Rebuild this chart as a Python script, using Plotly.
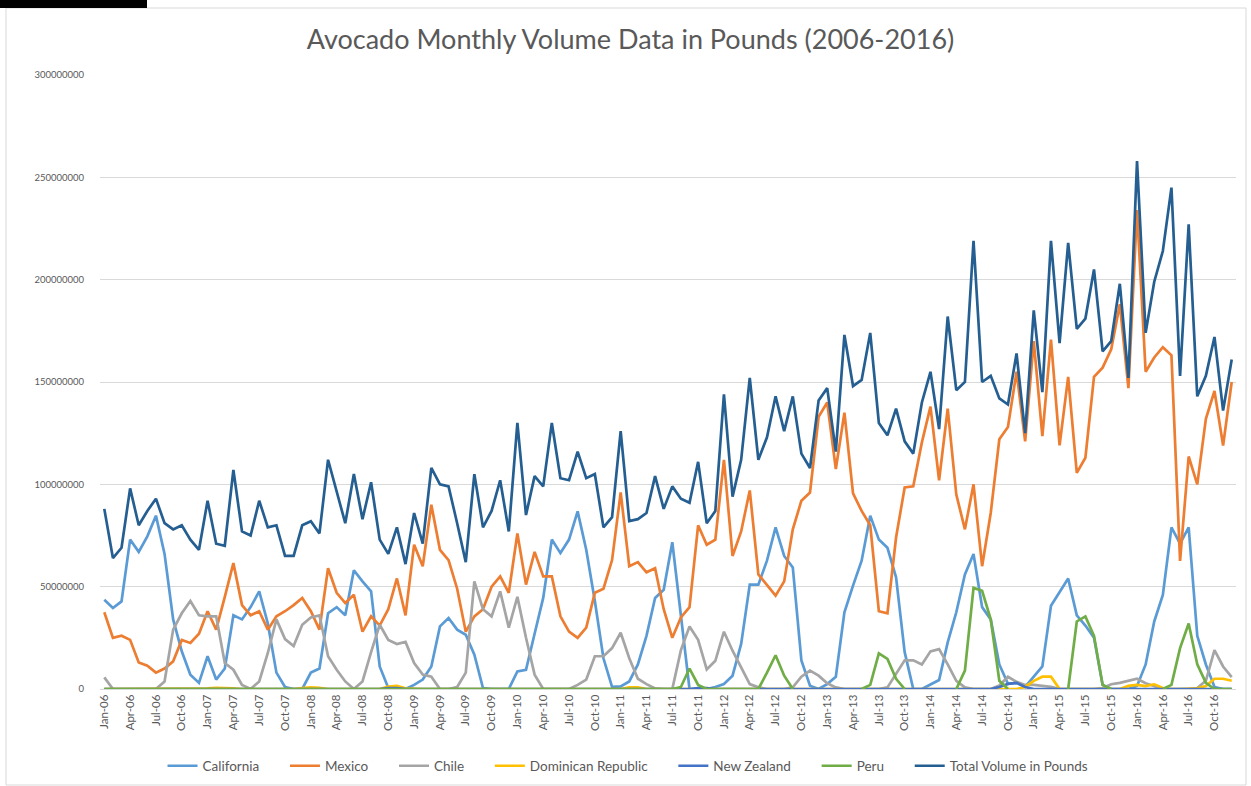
import plotly.graph_objects as go

# ---------------- data (values in millions of pounds) ----------------
month_names = ["Jan", "Feb", "Mar", "Apr", "May", "Jun", "Jul", "Aug", "Sep", "Oct", "Nov", "Dec"]
years = ["06", "07", "08", "09", "10", "11", "12", "13", "14", "15", "16"]
categories = [f"{m}-{y}" for y in years for m in month_names]

california = [
    43.6, 39.6, 42.8, 73, 67, 74.6, 84.7, 66, 34, 18.4, 7, 3,
    16, 4.6, 10, 36, 34, 40, 47.7, 32, 8, 1, 0, 0,
    8, 10, 37, 40, 36, 58, 52.6, 47.7, 11, 0.5, 0, 0,
    2, 4.6, 11, 30.6, 34.7, 29, 26.5, 16.8, 0.5, 0, 0, 0,
    8.6, 9.4, 27, 44.5, 73, 66.4, 73, 86.8, 68, 43, 15, 1,
    1.3, 3.7, 12, 26, 44.5, 48.5, 71.7, 36, 0, 0, 0, 1,
    2.4, 6.5, 22, 51, 51, 62.7, 79, 65, 59.4, 14, 1.6, 0,
    2.4, 6, 37.5, 50.5, 62.7, 84.7, 73, 69, 54.6, 18, 0, 0,
    2.4, 4.4, 22.8, 37.5, 56, 66, 40, 34, 12, 2.5, 3, 1,
    6, 11, 40.7, 47.7, 54, 36, 31, 25, 2, 0, 0, 0,
    1.5, 12, 33, 46, 79, 71, 79, 26, 12, 1, 0, 0,
]
mexico = [
    37.5, 25, 26, 24, 13, 11.4, 8, 10, 13.5, 24, 22.5, 27,
    38, 29, 45, 61.5, 41, 36, 38, 29, 35.5, 38, 41, 44.5,
    38, 29, 59, 47, 42, 46, 28, 35.5, 31, 39, 54, 36,
    70.5, 60, 90, 68, 63, 49, 28, 35.5, 39, 50, 55, 47,
    76, 51, 67, 55, 55, 35.5, 28, 25, 30, 47, 49, 63,
    96, 60, 62, 57, 59, 39, 25, 35, 40, 80, 70.5, 73,
    112, 65, 77, 97, 56, 51, 45.6, 52.6, 78, 92, 96, 133,
    140, 107.5, 135, 95.6, 87, 80, 38, 37, 74, 98.5, 99, 120.5,
    138, 102, 137, 95, 78, 100, 60, 86, 122, 128, 155, 121,
    170, 123.5, 170.7, 119, 152.5, 105.6, 113, 152.5, 157, 166, 188, 147,
    234, 155, 162, 167, 163, 62.6, 113.6, 100, 132, 145.6, 119, 150,
]
chile = [
    5.7, 0, 0, 0, 0, 0, 0, 3.7, 29, 37, 43, 36,
    35.5, 35.5, 12.7, 9.4, 2, 0, 3.7, 17.6, 34, 24.4, 21, 31.4,
    35, 36, 16, 9.4, 3.7, 0, 3.7, 18, 31.4, 24, 22, 23,
    12.7, 7, 6, 0, 0, 1, 8, 52.6, 39, 35.5, 47.7, 30,
    45, 25, 7, 0, 0, 0, 0, 2, 4.6, 16, 16, 20,
    27.5, 15, 5, 2.4, 0.3, 0, 0, 19, 30.5, 24, 9.6, 13.8,
    28, 18.7, 10.6, 2.4, 0.8, 0, 0, 0, 0.8, 6, 9, 6.5,
    2.8, 0.8, 0, 0, 0, 0, 0, 0.8, 7.3, 14, 14, 12,
    18.4, 19.5, 12, 4, 0.8, 0, 0, 0, 1.7, 6, 3.5, 2,
    2, 1.5, 1, 0, 0, 0, 0, 0, 0.5, 2.3, 3, 4,
    5, 2.8, 1.4, 0, 0, 0, 0, 0.5, 4, 19, 11, 5.8,
]
dominican_republic = [
    0, 0, 0, 0, 0, 0, 0, 0, 0, 0, 0, 0,
    0.3, 0.6, 0.6, 0.3, 0, 0, 0, 0, 0, 0, 0, 0.5,
    0.8, 0.6, 0, 0, 0, 0, 0, 0, 0, 1.2, 1.5, 0.3,
    0, 0, 0, 0, 0, 0, 0, 0, 0, 0, 0, 0,
    0, 0, 0, 0, 0, 0, 0, 0, 0, 0, 0, 0,
    0, 0.8, 0.8, 0, 0, 0, 0, 0, 0, 0, 0, 0,
    0, 0, 0, 0, 0, 0, 0, 0, 0, 0, 0, 0,
    0, 0, 0, 0, 0, 0, 0, 0, 0, 0.3, 0, 0,
    0, 0, 0, 0, 0, 0, 0, 0, 0, 0, 0, 1,
    4, 6, 6, 0, 0, 0, 0, 0, 0, 0, 0, 1.5,
    2, 1.4, 2.3, 0.5, 0, 0, 0, 0.3, 1.5, 5, 5, 4,
]
new_zealand = [
    0, 0, 0, 0, 0, 0, 0, 0, 0, 0, 0, 0,
    0, 0, 0, 0, 0, 0, 0, 0, 0, 0, 0, 0,
    0, 0, 0, 0, 0, 0, 0, 0, 0, 0.5, 0.5, 0,
    0, 0, 0, 0, 0, 0, 0, 0, 0, 0, 0, 0,
    0, 0, 0, 0, 0, 0, 0, 0, 0, 0, 0, 0,
    0, 0, 0, 0, 0, 0, 0, 0, 0, 0.5, 0.5, 0,
    0, 0, 0, 0, 0, 0, 0, 0, 0, 0, 0, 0,
    0, 0, 0, 0, 0, 0, 0, 0, 0, 0, 0, 0,
    0, 0, 0, 0, 0, 0, 0, 0, 1, 2.5, 3, 1,
    0, 0, 0, 0, 0, 0, 0, 0, 0, 0, 0, 0,
    0, 0, 0, 0, 0, 0, 0, 0, 0, 0, 0, 0,
]
N = None
peru = [
    0, 0, 0, 0, 0, 0, 0, 0, 0, 0, 0, 0,
    0, 0, 0, 0, 0, 0, 0, 0, 0, 0, 0, 0,
    0, 0, 0, 0, 0, 0, 0, 0, 0, 0, 0, 0,
    0, 0, 0, 0, 0, 0, 0, 0, 0, 0, 0, 0,
    0, 0, 0, 0, 0, 0, 0, 0, 0, 0, 0, 0,
    0, 0, 0, 0, 0, 0, 0, 1, 10, 2, 0, 0,
    0, 0, 0, 0, 0, 8, 16.5, 6.5, 0, N, N, N,
    N, N, N, N, 0, 2, 17.4, 14.7, 5, 0, N, N,
    N, N, N, 0, 9, 49.4, 48, 34, 4, 0, N, N,
    N, N, N, N, 0, 33, 35.5, 26, 2, 0, N, N,
    N, N, N, 0, 2, 20, 32, 12, 3, 0, 0, 0,
]
total = [
    88, 64, 69, 98, 80, 87, 93, 81, 78, 80, 73, 68,
    92, 71, 70, 107, 77, 75, 92, 79, 80, 65, 65, 80,
    82, 76, 112, 96, 81, 105, 83, 101, 73, 66, 79, 61,
    86, 71, 108, 100, 99, 81, 62, 105, 79, 87, 102, 77,
    130, 85, 104, 99, 130, 103, 102, 116, 103, 105, 79, 84,
    126, 82, 83, 86, 104, 88, 99, 93, 91, 111, 81, 87,
    144, 94, 112, 152, 112, 123, 143, 126, 143, 115, 108, 141,
    147, 116, 173, 148, 151, 174, 130, 124, 137, 121, 115, 140,
    155, 127, 182, 146, 150, 219, 150, 153, 142, 139, 164, 125,
    185, 145, 219, 169, 218, 176, 181, 205, 165, 170, 198, 152,
    258, 174, 199, 214, 245, 153, 227, 143, 153, 172, 136, 161,
]

series_names = ["California", "Mexico", "Chile", "Dominican Republic",
                "New Zealand", "Peru", "Total Volume in Pounds"]
series_values = [california, mexico, chile, dominican_republic,
                 new_zealand, peru, total]
series_colors = ["#5B9BD5", "#ED7D31", "#A5A5A5", "#FFC000",
                 "#4472C4", "#70AD47", "#255E91"]

y_ticks = [0, 50e6, 100e6, 150e6, 200e6, 250e6, 300e6]
y_ticktext = ["0", "50000000", "100000000", "150000000", "200000000", "250000000", "300000000"]

# ---------------- figure ----------------
fig = go.Figure()
pad = "\u00a0" * 6
for name, vals, col in zip(series_names, series_values, series_colors):
    fig.add_trace(go.Scatter(
        x=categories,
        y=[None if v is None else v * 1e6 for v in vals],
        mode="lines",
        name=name + pad,
        line=dict(color=col, width=2.7),
        connectgaps=False,
    ))

font_family = "Lato, 'Open Sans', sans-serif"
text_col = "#595959"

fig.update_layout(
    width=1251, height=786,
    paper_bgcolor="white", plot_bgcolor="white",
    margin=dict(l=100, r=15, t=75, b=97),
    font=dict(family=font_family, color=text_col, size=11),
    title=dict(
        text="Avocado Monthly Volume Data in Pounds (2006-2016)",
        font=dict(family=font_family, size=27, color=text_col),
        x=0.504, xref="container", xanchor="center",
        y=1 - 40 / 786, yref="container", yanchor="middle",
    ),
    legend=dict(
        orientation="h",
        xref="container", x=0.51, xanchor="center",
        yref="container", y=1 - 766 / 786, yanchor="middle",
        font=dict(size=13.5, color=text_col),
        itemwidth=30,
        tracegroupgap=0,
    ),
    showlegend=True,
)

fig.update_xaxes(
    type="category",
    range=[-0.5, len(categories) - 0.5],
    tickmode="array",
    tickvals=categories[::3],
    ticktext=categories[::3],
    tickangle=-90,
    tickfont=dict(size=11.5, color=text_col),
    showgrid=False,
    showline=True, linecolor="#D9D9D9", linewidth=1,
    ticks="", zeroline=False,
)
fig.update_yaxes(
    range=[0, 300e6],
    tickmode="array",
    tickvals=y_ticks,
    ticktext=y_ticktext,
    tickfont=dict(size=9.5, color=text_col),
    showgrid=True, gridcolor="#D9D9D9", gridwidth=1,
    zeroline=False, showline=False, ticks="",
    ticklabelstandoff=15,
)

# chart border and the cropped black bar at the top-left corner
fig.add_shape(type="rect", xref="paper", yref="paper",
              x0=(6 - 100) / 1136, x1=(1246 - 100) / 1136,
              y0=(689 - 785) / 614, y1=(689 - 8) / 614,
              line=dict(color="#D9D9D9", width=1), fillcolor="rgba(0,0,0,0)", layer="below")
fig.add_shape(type="rect", xref="paper", yref="paper",
              x0=(0 - 100) / 1136, x1=(147 - 100) / 1136,
              y0=(689 - 8) / 614, y1=(689 - 0) / 614,
              line=dict(width=0), fillcolor="black")

fig.write_html("out.html", config={"displayModeBar": False},
               post_script="document.body.style.margin='0';")
